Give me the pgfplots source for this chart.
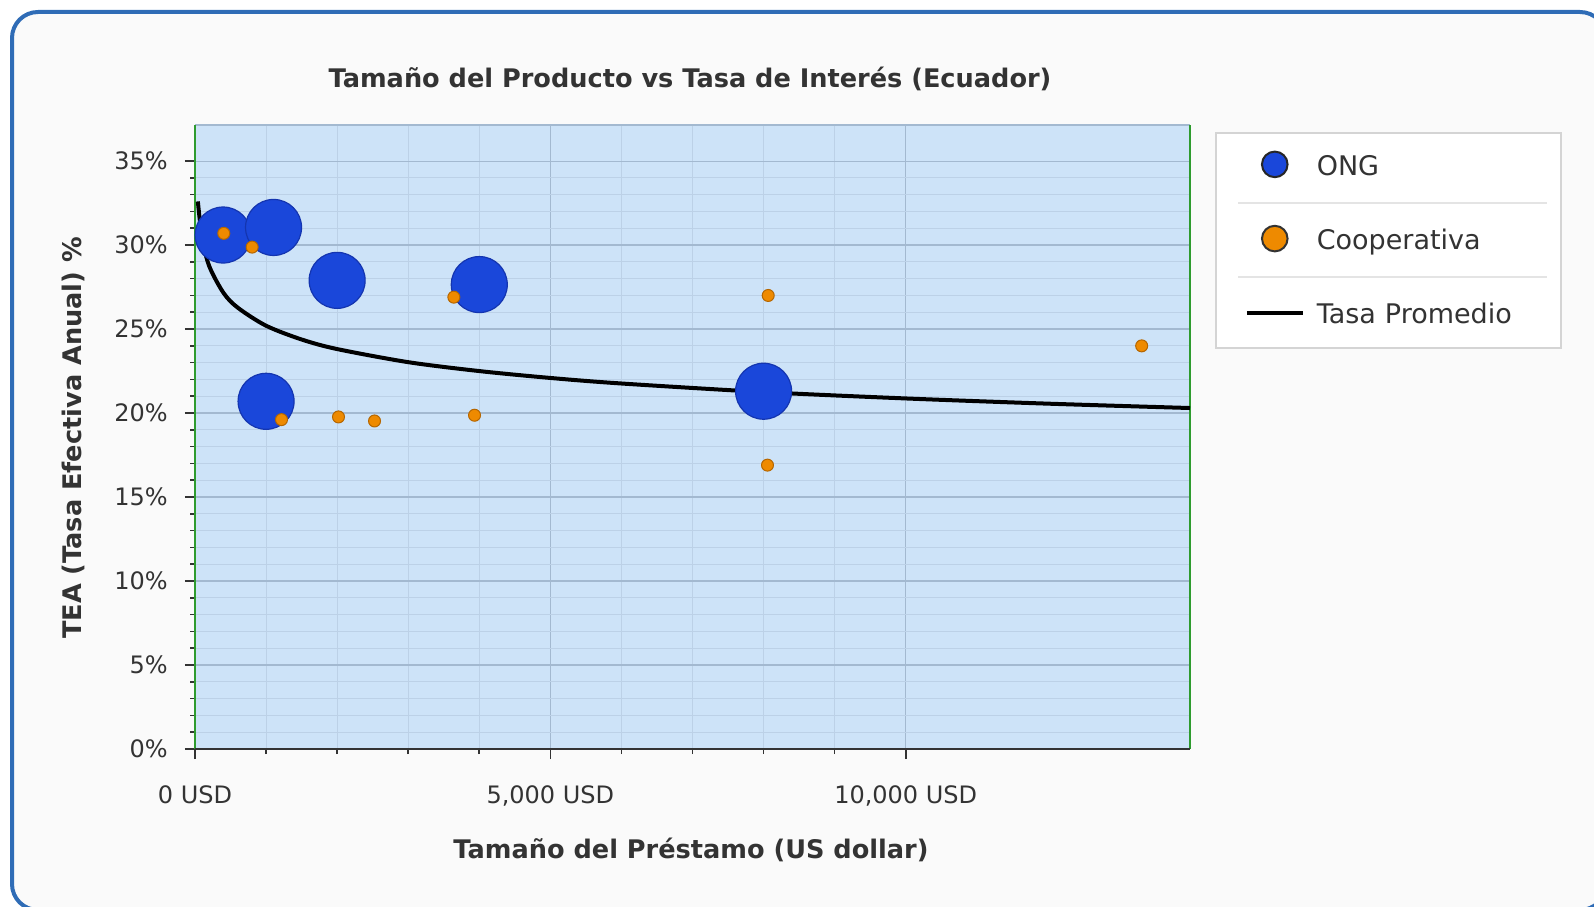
\documentclass[border=0pt]{standalone}
\usepackage{fontspec}
\setmainfont{DejaVu Sans}
\usepackage{pgfplots}
\pgfplotsset{compat=1.18}
\definecolor{frameblue}{HTML}{2F6CB6}
\definecolor{panelbg}{HTML}{FAFAFA}
\definecolor{plotbg}{HTML}{CDE3F8}
\definecolor{majgrid}{HTML}{A3B9D0}
\definecolor{mingrid}{HTML}{BCD1E7}
\definecolor{axgreen}{HTML}{2E9B2E}
\definecolor{ongblue}{HTML}{1A47DA}
\definecolor{ongedge}{HTML}{1435B0}
\definecolor{coopor}{HTML}{EE8A00}
\definecolor{coopedge}{HTML}{B56600}
\definecolor{txt}{HTML}{333333}
\definecolor{legline}{HTML}{E4E4E4}

\begin{document}
\begin{tikzpicture}[x=0.5pt,y=0.5pt]
\useasboundingbox (0,0) rectangle (1594,906);
% panel with rounded blue frame, cut at right and bottom
\begin{scope}
  \clip (0,0) rectangle (1594,906);
  \draw[frameblue, line width=2pt, fill=panelbg, rounded corners=13pt] (12,894) rectangle (1606,-4);
\end{scope}

\begin{axis}[
    at={(97.5pt,78.5pt)}, anchor=south west,
    scale only axis, width=497.5pt, height=312pt,
    xmin=0, xmax=14000, ymin=0, ymax=37.15,
    scaled x ticks=false,
    axis background/.style={fill=plotbg},
    xtick={0,5000,10000},
    xticklabels={0 USD,{5,000 USD},{10,000 USD}},
    ytick={0,5,10,15,20,25,30,35},
    yticklabels={0\%,5\%,10\%,15\%,20\%,25\%,30\%,35\%},
    minor x tick num=4, minor y tick num=4,
    grid=both,
    major grid style={majgrid, line width=0.6pt},
    minor grid style={mingrid, line width=0.5pt},
    tick align=outside, xtick pos=left, ytick pos=left,
    major tick length=5pt, minor tick length=2.5pt,
    tick style={txt, line width=0.8pt},
    separate axis lines,
    x axis line style={majgrid, line width=0.6pt},
    y axis line style={axgreen, line width=1.2pt},
    ticklabel style={font=\fontsize{12}{14}\selectfont, text=txt, inner sep=0pt},
    yticklabel style={anchor=east, xshift=-8.5pt},
    xticklabel style={anchor=base, yshift=-22pt},
    legend style={
        at={(1.0251,0.9888)}, anchor=north west,
        draw={rgb,255:red,212;green,212;blue,212}, line width=0.8pt, fill=white,
        inner xsep=0pt, inner ysep=8.2pt,
        row sep=20.1pt, column sep=0pt,
        font=\fontsize{13.5}{16}\selectfont, text=txt,
        nodes={inner sep=0pt, text width=122pt, text height=10pt, text depth=4pt},
    },
    legend cell align=left,
]
% ONG
\addplot[only marks, mark=*, mark size=14pt,
    mark options={fill=ongblue, draw=ongedge, line width=0.6pt},
    legend image code/.code={
        \path[draw=none, fill=none] (0pt,-4pt) rectangle (50.5pt,10pt);
        \draw[draw=black!85, line width=1pt, fill=ongblue] (29.5pt,2.4pt) circle (6.4pt);}]
coordinates {(395,30.6) (1105,31.05) (2000,27.9) (4000,27.65) (1000,20.7) (8000,21.3)};
\addlegendentry{ONG}
% Cooperativa
\addplot[only marks, mark=*, mark size=3pt,
    mark options={fill=coopor, draw=coopedge, line width=0.5pt},
    legend image code/.code={
        \path[draw=none, fill=none] (0pt,-4pt) rectangle (50.5pt,10pt);
        \draw[draw=black!80, line width=1pt, fill=coopor] (29.5pt,2.4pt) circle (6.4pt);}]
coordinates {(405,30.7) (804,29.88) (1217,19.61) (2019,19.77) (2526,19.53)
    (3642,26.9) (3933,19.87) (8065,27.0) (8055,16.9) (13320,24.0)};
\addlegendentry{Cooperativa}
% Tasa Promedio
\addplot[black, line width=2pt, smooth, no marks,
    legend image code/.code={
        \path[draw=none, fill=none] (0pt,-4pt) rectangle (50.5pt,10pt);
        \draw[black, line width=2pt] (15.5pt,2.4pt) -- (43.5pt,2.4pt);}]
coordinates {(40,32.6) (100,30.43) (200,28.75) (400,27.16) (600,26.28)
    (1000,25.2) (1500,24.38) (2000,23.81) (3000,23.03) (4000,22.5)
    (5000,22.09) (6000,21.76) (8000,21.25) (10000,20.87) (12000,20.56) (14000,20.3)};
\addlegendentry{Tasa Promedio}
% dark bottom axis line
\draw[txt, line width=1pt] (axis description cs:0,0) -- (axis description cs:1,0);
\end{axis}

% legend separators
\draw[legline, line width=0.8pt] (1238,703.25) -- (1547,703.25);
\draw[legline, line width=0.8pt] (1238,628.75) -- (1547,628.75);

% titles
\node[font=\bfseries\fontsize{12.8}{15}\selectfont, text=txt] at (690,827)
    {Tamaño del Producto vs Tasa de Interés (Ecuador)};
\node[font=\bfseries\fontsize{12.8}{15}\selectfont, text=txt] at (691,56)
    {Tamaño del Préstamo (US dollar)};
\node[font=\bfseries\fontsize{12.8}{15}\selectfont, text=txt, rotate=90] at (73,468)
    {TEA (Tasa Efectiva Anual) \%};
\end{tikzpicture}
\end{document}
